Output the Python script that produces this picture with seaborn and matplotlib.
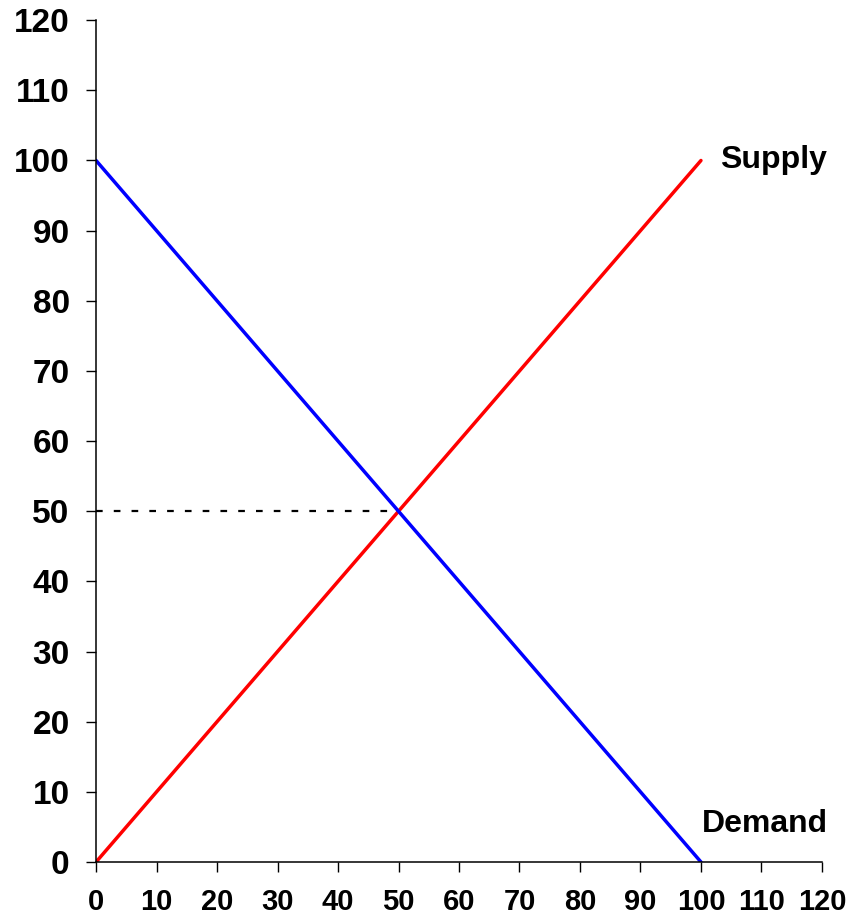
import matplotlib
matplotlib.use("Agg")
import matplotlib.pyplot as plt
import seaborn as sns
import pandas as pd

# Supply and demand curves (end points)
quantity = [0, 100]
supply_price = [0, 100]
demand_price = [100, 0]

# equilibrium marker line
eq_quantity = [0, 50]
eq_price = [50, 50]

ticks = list(range(0, 121, 10))

sns.set_style("ticks")
plt.rcParams['font.family'] = ['Liberation Sans', 'DejaVu Sans']
plt.rcParams['font.weight'] = 'bold'
plt.rcParams['text.color'] = 'black'

df = pd.DataFrame({"quantity": quantity,
                   "supply": supply_price,
                   "demand": demand_price})

fig = plt.figure(figsize=(8.5, 9.18), dpi=100)
ax = fig.add_axes([0.113, 0.061, 0.854, 0.917])

sns.lineplot(x=eq_quantity, y=eq_price, ax=ax, color="black",
             linewidth=1.6, dashes=False)
ax.lines[-1].set_dashes((3, 5))
sns.lineplot(data=df, x="quantity", y="supply", ax=ax,
             color="#ff0000", linewidth=2.5)
sns.lineplot(data=df, x="quantity", y="demand", ax=ax,
             color="#0000ff", linewidth=2.5)

ax.text(103.1, 98.9, "Supply", fontsize=23, fontweight="bold",
        color="black", ha="left", va="baseline")
ax.text(100.2, 4.3, "Demand", fontsize=23, fontweight="bold",
        color="black", ha="left", va="baseline")

ax.set_xlim(0, 120)
ax.set_ylim(0, 120)
ax.set_xticks(ticks)
ax.set_yticks(ticks)
ax.tick_params(axis="both", direction="out", length=7, width=1,
               colors="black")
ax.tick_params(axis="y", pad=12, labelsize=24)
ax.tick_params(axis="x", pad=12, labelsize=21)
for lab in ax.get_xticklabels() + ax.get_yticklabels():
    lab.set_fontweight("bold")
ax.set_xlabel("")
ax.set_ylabel("")
sns.despine(ax=ax)
for sp in ["left", "bottom"]:
    ax.spines[sp].set_linewidth(1.1)
    ax.spines[sp].set_color("black")

fig.savefig("out.png", dpi=100)
